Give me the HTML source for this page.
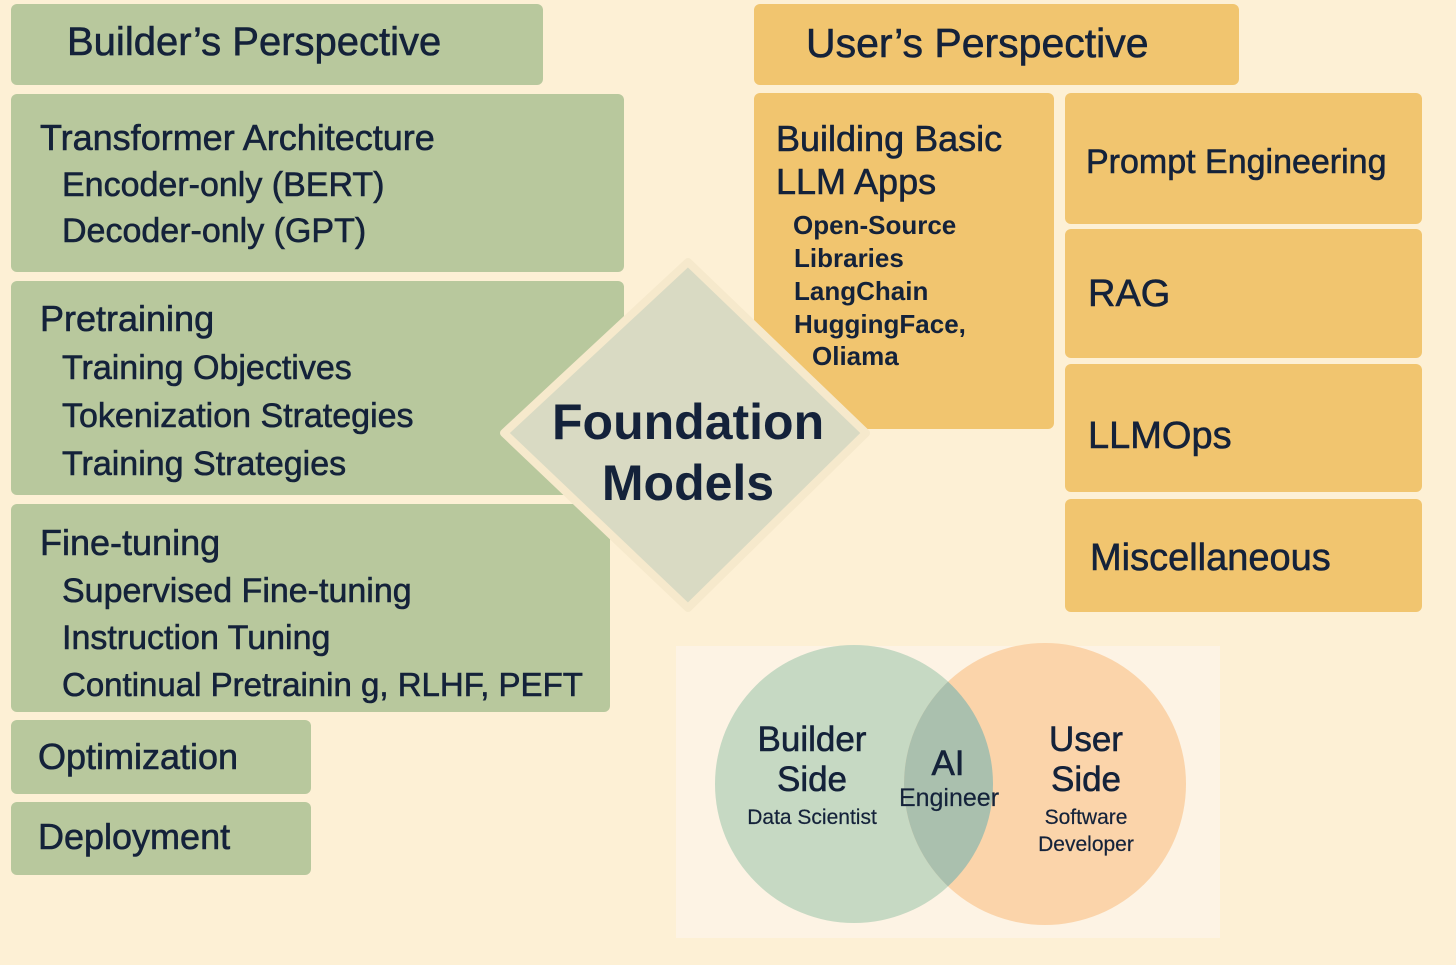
<!DOCTYPE html>
<html><head><meta charset="utf-8"><style>
body{margin:0;width:1456px;height:965px;background:#fdf0d5;position:relative;overflow:hidden;font-family:"Liberation Sans","DejaVu Sans",sans-serif;color:#14223a}
.b{position:absolute;border-radius:6px}
.g{background:#b8c89d}
.o{background:#f1c56f}
.t{position:absolute;white-space:nowrap;-webkit-text-stroke:0.6px #14223a}
.bold{font-weight:bold;-webkit-text-stroke:0}
</style></head><body>
<div class="b g" style="left:11px;top:4px;width:532px;height:81px"></div>
<div class="t" style="left:67px;top:20px;font-size:40px">Builder’s Perspective</div>
<div class="b g" style="left:11px;top:94px;width:613px;height:178px"></div>
<div class="t" style="left:40px;top:117px;font-size:36px">Transformer Architecture</div>
<div class="t" style="left:62px;top:166px;font-size:34px">Encoder-only (BERT)</div>
<div class="t" style="left:62px;top:212px;font-size:34px">Decoder-only (GPT)</div>
<div class="b g" style="left:11px;top:281px;width:613px;height:214px"></div>
<div class="t" style="left:40px;top:298px;font-size:36px">Pretraining</div>
<div class="t" style="left:62px;top:349px;font-size:34px">Training Objectives</div>
<div class="t" style="left:62px;top:397px;font-size:34px">Tokenization Strategies</div>
<div class="t" style="left:62px;top:445px;font-size:34px">Training Strategies</div>
<div class="b g" style="left:11px;top:504px;width:599px;height:208px"></div>
<div class="t" style="left:40px;top:522px;font-size:36px">Fine-tuning</div>
<div class="t" style="left:62px;top:572px;font-size:34px">Supervised Fine-tuning</div>
<div class="t" style="left:62px;top:619px;font-size:34px">Instruction Tuning</div>
<div class="t" style="left:62px;top:666px;font-size:33px">Continual Pretrainin g, RLHF, PEFT</div>
<div class="b g" style="left:11px;top:720px;width:300px;height:74px"></div>
<div class="t" style="left:38px;top:736px;font-size:36px">Optimization</div>
<div class="b g" style="left:11px;top:802px;width:300px;height:73px"></div>
<div class="t" style="left:38px;top:816px;font-size:36px">Deployment</div>

<div class="b o" style="left:754px;top:4px;width:485px;height:81px"></div>
<div class="t" style="left:806px;top:20px;font-size:41px">User’s Perspective</div>
<div class="b o" style="left:754px;top:93px;width:300px;height:336px"></div>
<div class="b o" style="left:1065px;top:93px;width:357px;height:131px"></div>
<div class="t" style="left:1086px;top:143px;font-size:34px">Prompt Engineering</div>
<div class="b o" style="left:1065px;top:229px;width:357px;height:129px"></div>
<div class="t" style="left:1088px;top:273px;font-size:38px">RAG</div>
<div class="b o" style="left:1065px;top:364px;width:357px;height:128px"></div>
<div class="t" style="left:1088px;top:415px;font-size:38px">LLMOps</div>
<div class="b o" style="left:1065px;top:499px;width:357px;height:113px"></div>
<div class="t" style="left:1090px;top:537px;font-size:38px">Miscellaneous</div>

<svg style="position:absolute;left:0;top:0" width="1456" height="965">
<polygon points="688,262 866,433 688,608 504,433" fill="#d9dac3" stroke="#f6e9cc" stroke-width="8" stroke-linejoin="round"/>
<rect x="676" y="646" width="544" height="292" fill="#fdf3e4"/>
<circle cx="854" cy="784" r="139" fill="#c6d9c3"/>
<circle cx="1045" cy="784" r="141" fill="#fbd4aa"/>
<clipPath id="c"><circle cx="854" cy="784" r="139"/></clipPath>
<circle cx="1045" cy="784" r="141" fill="#aac0ae" clip-path="url(#c)"/>
</svg>
<div class="t" style="left:776px;top:118px;font-size:36px">Building Basic</div>
<div class="t" style="left:776px;top:161px;font-size:36px">LLM Apps</div>
<div class="t bold" style="left:793px;top:210px;font-size:26px">Open-Source</div>
<div class="t bold" style="left:794px;top:243px;font-size:26px">Libraries</div>
<div class="t bold" style="left:794px;top:276px;font-size:26px">LangChain</div>
<div class="t bold" style="left:794px;top:309px;font-size:26px">HuggingFace,</div>
<div class="t bold" style="left:812px;top:341px;font-size:26px">Oliama</div>
<div class="t bold" style="left:552px;top:392px;font-size:50px;width:272px;text-align:center;line-height:61px">Foundation<br>Models</div>
<div class="t" style="left:712px;top:720px;width:200px;text-align:center;font-size:35px;line-height:40px">Builder<br>Side</div>
<div class="t" style="left:712px;top:806px;width:200px;text-align:center;font-size:21px;-webkit-text-stroke:0.2px">Data Scientist</div>
<div class="t" style="left:898px;top:744px;width:100px;text-align:center;font-size:35px">AI</div>
<div class="t" style="left:890px;top:784px;width:118px;text-align:center;font-size:25px;-webkit-text-stroke:0.2px">Engineer</div>
<div class="t" style="left:986px;top:720px;width:200px;text-align:center;font-size:35px;line-height:40px">User<br>Side</div>
<div class="t" style="left:986px;top:804px;width:200px;text-align:center;font-size:21px;line-height:27px;-webkit-text-stroke:0.2px">Software<br>Developer</div>
</body></html>
